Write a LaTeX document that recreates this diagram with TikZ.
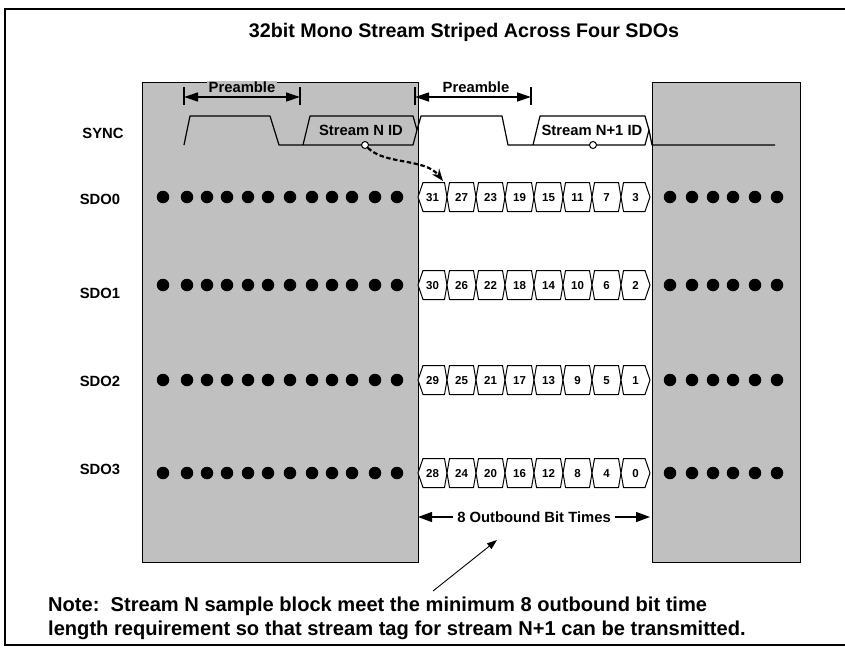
\documentclass[tikz,border=0pt]{standalone}
\usepackage{fontspec}
\setmainfont{Liberation Sans}
\usetikzlibrary{arrows.meta}
\definecolor{boxgray}{RGB}{192,192,192}
\tikzset{
  lbl/.style={font=\fontsize{14.8}{17}\selectfont\bfseries, inner sep=0pt},
  num/.style={font=\fontsize{11.5}{13}\selectfont\bfseries, inner sep=0pt},
  grayblk/.style={draw=black, line width=0.9pt, fill=boxgray},
  wave/.style={line width=1.2pt, line join=round},
  bus/.style={draw=black, line width=1pt, fill=white, line join=round},
  dotmark/.style={circle, fill=black, minimum size=12.5pt, inner sep=0pt},
  tickm/.style={line width=1.2pt},
  dimarrow/.style={line width=1.3pt, {Triangle[length=14pt,width=9pt]}-{Triangle[length=14pt,width=9pt]}},
  pin/.style={circle, draw=black, fill=white, line width=1pt, minimum size=7pt, inner sep=0pt},
}
\begin{document}
\begin{tikzpicture}[x=1pt,y=-1pt]
\useasboundingbox (0,0) rectangle (845,648);
\clip (0,0) rectangle (845,648);
% frame
\draw[line width=2.5pt] (5,9) rectangle (870,645);
% title
\node[font=\fontsize{19.7}{23}\selectfont\bfseries, inner sep=0pt] (title) at (464,32) {32bit Mono Stream Striped Across Four SDOs};
% gray blocks
\draw[grayblk] (142,82) rectangle (418,562);
\draw[grayblk] (652,82) rectangle (800,562);
% preamble dimension arrows
\coordinate (pa1) at (184,97); \coordinate (pa2) at (300,97);
\coordinate (pb1) at (415,97); \coordinate (pb2) at (531,97);
\draw[tickm] (184,87) -- (184,105);
\draw[tickm] (300,87) -- (300,105);
\draw[tickm] (415,87) -- (415,105);
\draw[tickm] (531,87) -- (531,105);
\draw[dimarrow] (pa1) -- (pa2);
\draw[dimarrow] (pb1) -- (pb2);
\node[lbl, fill=boxgray, inner xsep=2pt, inner ysep=1pt] (preA) at (242,87) {Preamble};
\node[lbl, fill=white, inner xsep=2pt, inner ysep=1pt] (preB) at (476,87) {Preamble};
% labels
\node[lbl] (sync) at (103,133) {SYNC};
\node[lbl] (sdo0) at (100,199) {SDO0};
\node[lbl] (sdo1) at (100,293) {SDO1};
\node[lbl] (sdo2) at (100,381) {SDO2};
\node[lbl] (sdo3) at (100,469) {SDO3};
% SYNC waveform
\draw[wave] (184,145) -- (190,116) -- (270,116) -- (279,145) -- (413,145) -- (417,130) -- (413,116) -- (310,116) -- (303,145);
\draw[wave] (417,130) -- (421,116) -- (502,116) -- (508,145) -- (645,145) -- (649,130) -- (645,116) -- (540,116) -- (533,145);
\draw[wave] (649,130) -- (652,145) -- (775,145);
\node[lbl] (idN) at (361,130) {Stream N ID};
\node[lbl] (idN1) at (592,130) {Stream N+1 ID};
\node[pin] (pinN) at (365,145) {};
\node[pin] (pinN1) at (593,145) {};
% data rows
\foreach \yc/\vals/\r in {197/{31,27,23,19,15,11,7,3}/0, 285/{30,26,22,18,14,10,6,2}/1, 380/{29,25,21,17,13,9,5,1}/2, 473/{28,24,20,16,12,8,4,0}/3} {
  \foreach \v [count=\i from 0] in \vals {
    \pgfmathsetmacro\xa{418+29*\i}
    \pgfmathsetmacro\xb{\xa+29}
    \pgfmathsetmacro\da{ifthenelse(\i==0,5,2.5)}
    \pgfmathsetmacro\db{ifthenelse(\i==7,5,2.5)}
    \draw[bus] (\xa,\yc) -- (\xa+\da,\yc-14.5) -- (\xb-\db,\yc-14.5) -- (\xb,\yc) -- (\xb-\db,\yc+14.5) -- (\xa+\da,\yc+14.5) -- cycle;
    \node[num] (c\r-\i) at ({(\xa+\xb)/2},\yc+0.5) {\v};
  }
  \foreach \xd [count=\k] in {163,187,207,227,248,268,290,312,332,352,375,397} {
    \node[dotmark] (dl\r-\k) at (\xd,\yc) {};
  }
  \foreach \xd [count=\k] in {670,692,713,733,755,777} {
    \node[dotmark] (dr\r-\k) at (\xd,\yc) {};
  }
}
% dashed arrow from Stream N ID to first bit
\coordinate (dtip) at (443,181);
\draw[line width=2.2pt, dash pattern=on 4.5pt off 2.5pt, -{Stealth[length=12pt,width=9pt]}] (pinN.south east) .. controls (385,165) and (425,158) .. (dtip);
% 8 outbound bit times
\coordinate (ob1) at (418,517); \coordinate (ob2) at (650,517);
\node[lbl, fill=white, inner xsep=4pt] (obt) at (534,517) {8 Outbound Bit Times};
\draw[line width=1.3pt, -{Triangle[length=14pt,width=10pt]}] (obt.west) -- (ob1);
\draw[line width=1.3pt, -{Triangle[length=14pt,width=10pt]}] (obt.east) -- (ob2);
% note
\node[font=\fontsize{20.1}{24}\selectfont\bfseries, anchor=north west, align=left, inner sep=0pt] (note) at (48,597) {Note:\ \ Stream N sample block meet the minimum 8 outbound bit time\\length requirement so that stream tag for stream N+1 can be transmitted.};
\coordinate (ntail) at (433,591);
\coordinate (nhead) at (497,540);
\draw[line width=0.9pt, -{Triangle[length=10pt,width=7pt]}] (ntail) -- (nhead);
\end{tikzpicture}
\end{document}
